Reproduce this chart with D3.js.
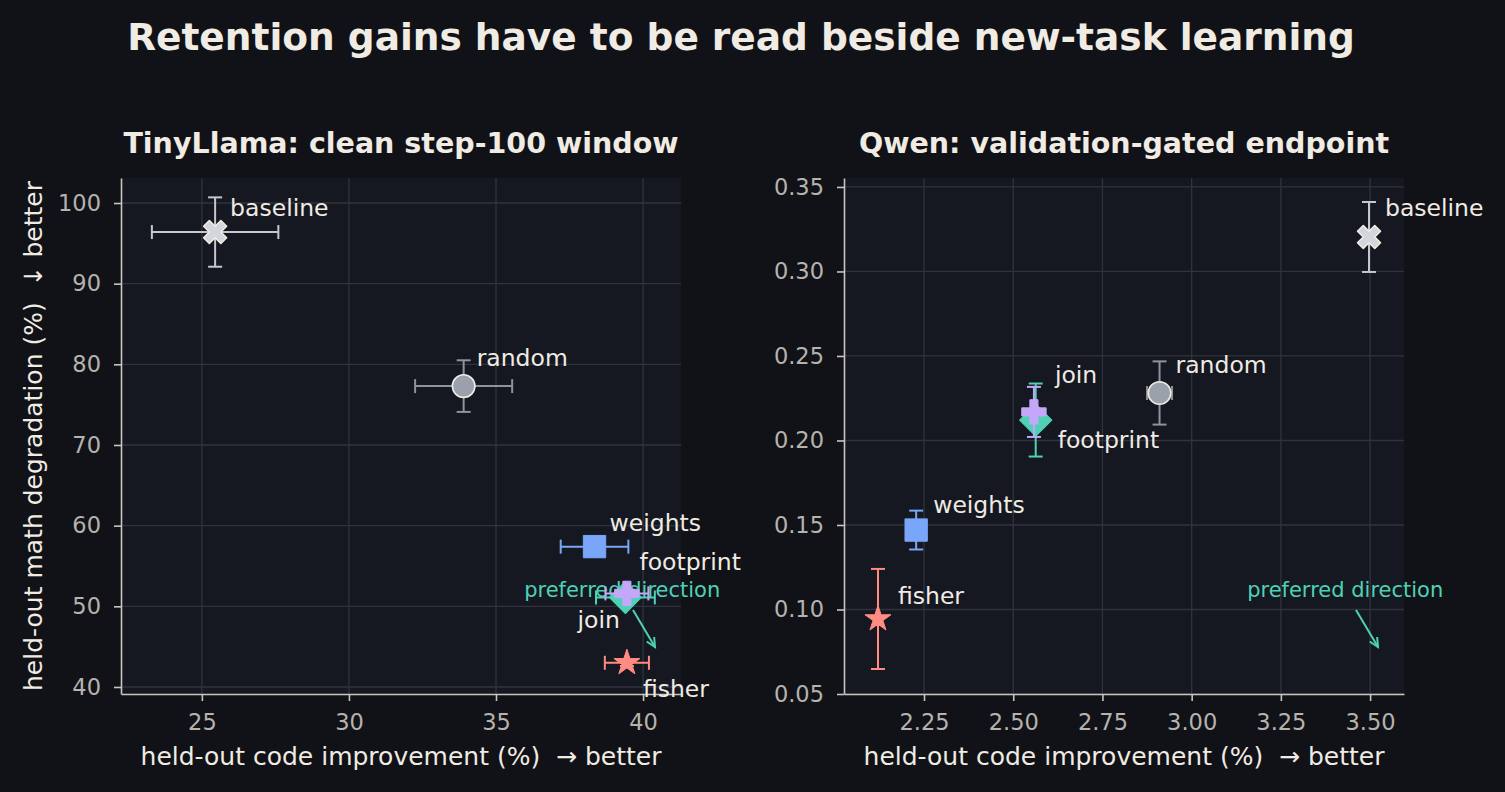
<!DOCTYPE html>
<html>
<head>
<meta charset="utf-8">
<script src="https://cdn.jsdelivr.net/npm/d3@7"></script>
<style>
  body { margin: 0; background: #111217; }
  svg { display: block; font-family: "DejaVu Sans", sans-serif; }
  text { white-space: pre; }
</style>
</head>
<body>
<svg id="chart" width="1505" height="792"></svg>
<script>
// methods, same order in both panels
const methods = ['baseline', 'random', 'weights', 'footprint', 'join', 'fisher'];

// TinyLlama panel
const tinyX = [25.45, 33.9, 38.35, 39.4, 39.45, 39.45];
const tinyXErr = [2.15, 1.65, 1.15, 1.0, 0.73, 0.75];
const tinyY = [96.4, 77.3, 57.4, 51.1, 51.6, 43.0];
const tinyYErr = [4.3, 3.2, 0.3, 0.4, 0.4, 0.4];

// Qwen panel
const qwenX = [3.497, 2.91, 2.228, 2.563, 2.558, 2.121];
const qwenXErr = [0.004, 0.035, 0.004, 0.004, 0.004, 0.004];
const qwenY = [0.3204, 0.2281, 0.1470, 0.2121, 0.2169, 0.0944];
const qwenYErr = [0.0207, 0.0187, 0.0115, 0.0216, 0.0148, 0.0296];

const tinyXTicks = [25, 30, 35, 40];
const tinyYTicks = [40, 50, 60, 70, 80, 90, 100];
const qwenXTicks = [2.25, 2.50, 2.75, 3.00, 3.25, 3.50];
const qwenYTicks = [0.05, 0.10, 0.15, 0.20, 0.25, 0.30, 0.35];

const style = {
  baseline:  {fill: '#d3d6dc', bar: '#c3c7cf', stroke: '#f0ebe3', shape: 'x'},
  random:    {fill: '#9aa0ac', bar: '#8d939f', stroke: '#f0ebe3', shape: 'circle'},
  weights:   {fill: '#79a6f9', bar: '#79a6f9', stroke: '#79a6f9', shape: 'square'},
  footprint: {fill: '#4fd1b5', bar: '#4fd1b5', stroke: '#4fd1b5', shape: 'diamond'},
  join:      {fill: '#c5a7f9', bar: '#c5a7f9', stroke: '#c5a7f9', shape: 'plus'},
  fisher:    {fill: '#ff8b82', bar: '#ff8b82', stroke: '#ff8b82', shape: 'star'}
};

// label offsets (px, from the marker centre)
const tinyLabelPos = {
  baseline: [15, -16, 'start'], random: [13, -20, 'start'], weights: [15, -16, 'start'],
  footprint: [14, -27, 'start'], join: [-7, 35, 'end'], fisher: [16, 34, 'start']
};
const qwenLabelPos = {
  baseline: [16, -21, 'start'], random: [16, -20, 'start'], weights: [17, -17, 'start'],
  footprint: [22, 28, 'start'], join: [21, -29, 'start'], fisher: [20, -15, 'start']
};

const svg = d3.select('#chart');
const textColor = '#f0ebe3';
const tickColor = '#b6b3ae';
const spineColor = '#c9c5bd';
const gridColor = '#30333d';

svg.append('rect').attr('width', 1505).attr('height', 792).attr('fill', '#111217');

svg.append('text')
  .attr('x', 741).attr('y', 50)
  .attr('text-anchor', 'middle')
  .attr('fill', textColor)
  .attr('font-size', 37.5).attr('font-weight', 'bold')
  .text('Retention gains have to be read beside new-task learning');

const plotTop = 178, plotBottom = 694;

function symbolPath(shape) {
  switch (shape) {
    case 'x': return {d: d3.symbol(d3.symbolCross, 330)(), rot: 45};
    case 'circle': return {d: d3.symbol(d3.symbolCircle, 400)(), rot: 0};
    case 'square': return {d: d3.symbol(d3.symbolSquare, 500)(), rot: 0};
    case 'diamond': return {d: d3.symbol(d3.symbolSquare, 520)(), rot: 45};
    case 'plus': return {d: d3.symbol(d3.symbolCross, 330)(), rot: 0};
    case 'star': return {d: d3.symbol(d3.symbolStar, 210)(), rot: 0};
  }
}

function panel(opt) {
  const x = d3.scaleLinear().domain(opt.xDomain).range([opt.left, opt.right]);
  const y = d3.scaleLinear().domain(opt.yDomain).range([plotBottom, plotTop]);
  const g = svg.append('g');

  g.append('rect')
    .attr('x', opt.left).attr('y', plotTop)
    .attr('width', opt.right - opt.left).attr('height', plotBottom - plotTop)
    .attr('fill', '#151821');

  // grid
  g.selectAll('.gx').data(opt.xTicks).enter().append('line')
    .attr('x1', d => x(d)).attr('x2', d => x(d))
    .attr('y1', plotTop).attr('y2', plotBottom)
    .attr('stroke', gridColor).attr('stroke-width', 1.3);
  g.selectAll('.gy').data(opt.yTicks).enter().append('line')
    .attr('y1', d => y(d)).attr('y2', d => y(d))
    .attr('x1', opt.left).attr('x2', opt.right)
    .attr('stroke', gridColor).attr('stroke-width', 1.3);

  // axes
  const ax = g.append('g').attr('transform', `translate(0,${plotBottom})`)
    .call(d3.axisBottom(x).tickValues(opt.xTicks).tickFormat(opt.fmt).tickSize(7).tickPadding(13).tickSizeOuter(0));
  const ay = g.append('g').attr('transform', `translate(${opt.left},0)`)
    .call(d3.axisLeft(y).tickValues(opt.yTicks).tickFormat(opt.fmt).tickSize(7).tickPadding(13).tickSizeOuter(0));
  [ax, ay].forEach(a => {
    a.select('.domain').attr('stroke', spineColor).attr('stroke-width', 1.6);
    a.selectAll('.tick line').attr('stroke', spineColor).attr('stroke-width', 1.6);
    a.selectAll('.tick text').attr('fill', tickColor).attr('font-size', 22.5)
      .attr('font-family', '"DejaVu Sans", sans-serif');
  });

  g.append('text')
    .attr('x', (opt.left + opt.right) / 2).attr('y', 765)
    .attr('text-anchor', 'middle').attr('fill', textColor).attr('font-size', 25)
    .text('held-out code improvement (%)  \u2192 better');

  g.append('text')
    .attr('x', (opt.left + opt.right) / 2).attr('y', 153)
    .attr('text-anchor', 'middle').attr('fill', textColor)
    .attr('font-size', 28.5).attr('font-weight', 'bold')
    .text(opt.title);

  // preferred direction hint
  const w = opt.right - opt.left, h = plotBottom - plotTop;
  g.append('text')
    .attr('x', opt.left + 0.895 * w).attr('y', plotTop + 0.812 * h)
    .attr('text-anchor', 'middle').attr('fill', '#4fd1b5').attr('font-size', 21)
    .text('preferred direction');
  const x0 = opt.left + 512, y0 = plotTop + 432, x1 = opt.left + 534, y1 = plotTop + 469;
  g.append('line').attr('x1', x0).attr('y1', y0).attr('x2', x1).attr('y2', y1)
    .attr('stroke', '#4fd1b5').attr('stroke-width', 2);
  const ang = Math.atan2(y1 - y0, x1 - x0);
  const hl = 10;
  g.append('path')
    .attr('d', `M${x1 - hl * Math.cos(ang - 0.45)},${y1 - hl * Math.sin(ang - 0.45)}L${x1},${y1}L${x1 - hl * Math.cos(ang + 0.45)},${y1 - hl * Math.sin(ang + 0.45)}`)
    .attr('fill', 'none').attr('stroke', '#4fd1b5').attr('stroke-width', 2);

  const pts = methods.map((m, i) => ({m, x: opt.xs[i], xe: opt.xe[i], y: opt.ys[i], ye: opt.ye[i]}));

  // labels
  g.selectAll('.lbl').data(pts).enter().append('text')
    .attr('x', d => x(d.x) + opt.labels[d.m][0])
    .attr('y', d => y(d.y) + opt.labels[d.m][1])
    .attr('text-anchor', d => opt.labels[d.m][2])
    .attr('fill', textColor).attr('font-size', 23.5)
    .text(d => d.m);

  const cap = 7;
  pts.forEach(d => {
    const c = style[d.m];
    const eg = g.append('g').attr('stroke', c.bar).attr('stroke-width', 2).attr('fill', 'none');
    const px = x(d.x), py = y(d.y);
    const xl = x(d.x - d.xe), xr = x(d.x + d.xe);
    const yt = y(d.y + d.ye), yb = y(d.y - d.ye);
    eg.append('line').attr('x1', xl).attr('x2', xr).attr('y1', py).attr('y2', py);
    eg.append('line').attr('x1', xl).attr('x2', xl).attr('y1', py - cap).attr('y2', py + cap);
    eg.append('line').attr('x1', xr).attr('x2', xr).attr('y1', py - cap).attr('y2', py + cap);
    eg.append('line').attr('x1', px).attr('x2', px).attr('y1', yt).attr('y2', yb);
    eg.append('line').attr('x1', px - cap).attr('x2', px + cap).attr('y1', yt).attr('y2', yt);
    eg.append('line').attr('x1', px - cap).attr('x2', px + cap).attr('y1', yb).attr('y2', yb);
    const s = symbolPath(c.shape);
    g.append('path')
      .attr('d', s.d)
      .attr('transform', `translate(${px},${py}) rotate(${s.rot})`)
      .attr('fill', c.fill)
      .attr('stroke', c.stroke).attr('stroke-width', c.shape === 'x' || c.shape === 'circle' ? 1.6 : 1)
      .attr('stroke-linejoin', 'round');
  });
}

panel({
  left: 121, right: 681,
  xDomain: [22.25, 41.29], yDomain: [39.13, 103.1],
  xTicks: tinyXTicks, yTicks: tinyYTicks, fmt: d3.format('d'),
  xs: tinyX, xe: tinyXErr, ys: tinyY, ye: tinyYErr,
  labels: tinyLabelPos,
  title: 'TinyLlama: clean step-100 window'
});

panel({
  left: 844, right: 1404,
  xDomain: [2.0258, 3.595], yDomain: [0.05, 0.3553],
  xTicks: qwenXTicks, yTicks: qwenYTicks, fmt: d3.format('.2f'),
  xs: qwenX, xe: qwenXErr, ys: qwenY, ye: qwenYErr,
  labels: qwenLabelPos,
  title: 'Qwen: validation-gated endpoint'
});

svg.append('text')
  .attr('transform', 'translate(42,436) rotate(-90)')
  .attr('text-anchor', 'middle').attr('fill', textColor).attr('font-size', 25)
  .text('held-out math degradation (%)  \u2193 better');
</script>
</body>
</html>
